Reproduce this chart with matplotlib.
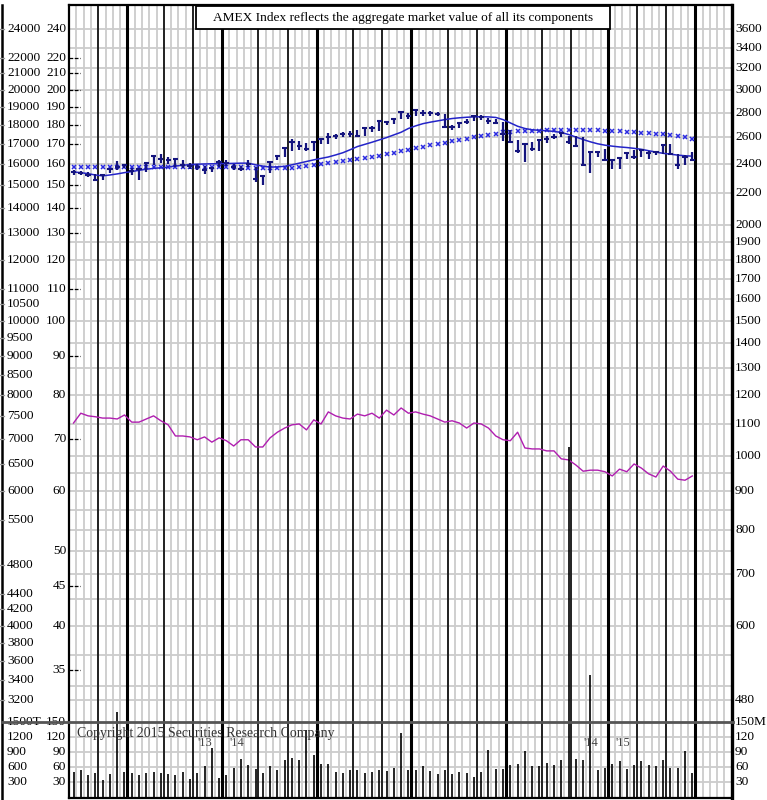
import numpy as np
import pandas as pd
import matplotlib
matplotlib.use("Agg")
from matplotlib import pyplot as plt
from matplotlib import transforms
from matplotlib.lines import Line2D
from matplotlib.patches import Rectangle
from matplotlib.ticker import NullLocator

plt.rcParams['font.family'] = ['Liberation Serif', 'DejaVu Serif']

W, H = 767, 800

# weekly bars, Aug 2013 - Mar 2015 (a few empty weeks to the right)
weeks = pd.date_range('2013-08-07', periods=92, freq='7D')
n_bars = 86

high = [157.0, 156.8, 156.3, 155.3, 155.0, 158.0, 161.5, 159.8, 158.3, 157.8,
        161.0, 164.3, 164.9, 163.5, 162.8, 162.0, 160.3, 160.0, 159.0, 158.4,
        162.0, 161.8, 160.0, 159.0, 162.0, 158.5, 154.5, 161.6, 164.5, 168.3,
        172.5, 171.5, 170.5, 171.0, 173.0, 175.7, 175.3, 176.3, 176.5, 177.3,
        178.1, 179.4, 182.2, 182.2, 183.3, 187.5, 186.7, 188.5, 188.2, 187.8,
        187.3, 186.0, 179.7, 181.3, 183.0, 185.3, 185.3, 183.5, 183.0, 181.3,
        177.0, 172.0, 170.5, 171.0, 172.5, 174.0, 175.0, 176.0, 174.0, 174.0,
        173.3, 166.6, 166.6, 167.5, 162.6, 163.4, 165.8, 167.0, 167.5, 166.6,
        166.6, 169.9, 169.9, 165.0, 164.2, 166.0]
low = [155.0, 154.8, 154.0, 152.0, 152.5, 155.5, 157.3, 158.0, 155.0, 152.5,
       156.4, 159.5, 160.5, 160.0, 158.5, 158.3, 157.5, 157.2, 155.4, 156.3,
       158.5, 159.0, 157.0, 156.5, 158.5, 151.8, 150.3, 155.5, 162.0, 163.5,
       166.2, 167.0, 166.5, 166.5, 170.0, 169.9, 172.5, 173.5, 173.5, 173.3,
       174.0, 176.2, 176.8, 179.7, 180.5, 183.0, 183.0, 184.7, 185.0, 184.7,
       184.7, 178.1, 177.3, 178.1, 180.5, 182.0, 182.5, 180.5, 180.5, 171.5,
       170.5, 165.5, 161.0, 166.5, 166.5, 170.5, 172.3, 173.3, 170.0, 168.3,
       159.1, 155.5, 163.4, 161.7, 157.8, 157.8, 162.3, 162.6, 163.4, 162.6,
       164.2, 165.0, 164.2, 157.8, 159.4, 161.3]
close = [156.0, 155.8, 155.0, 152.5, 154.8, 157.5, 158.5, 159.4, 156.8, 157.5,
         160.5, 164.0, 162.4, 161.8, 162.6, 159.5, 159.0, 158.5, 157.0, 158.2,
         161.0, 160.5, 158.5, 157.5, 160.0, 153.0, 154.2, 161.0, 164.0, 168.0,
         171.0, 169.0, 167.5, 170.8, 172.5, 173.3, 173.8, 174.9, 175.0, 173.8,
         178.0, 178.1, 182.0, 181.4, 183.0, 187.3, 184.7, 188.3, 186.7, 186.4,
         186.0, 179.0, 178.9, 181.0, 181.6, 185.0, 184.5, 182.2, 181.0, 175.0,
         171.0, 166.5, 169.8, 167.5, 172.2, 172.5, 173.5, 175.8, 171.0, 169.0,
         159.5, 166.0, 166.0, 162.0, 162.0, 163.0, 165.5, 163.5, 167.0, 165.5,
         165.8, 169.5, 165.0, 159.4, 163.4, 161.7]
ma_short = [156.2, 155.9, 155.4, 154.8, 154.4, 154.8, 155.3, 155.9, 156.4, 157.0,
            157.5, 157.9, 158.2, 158.5, 159.0, 159.4, 159.7, 159.9, 160.0, 160.1,
            160.1, 160.2, 160.3, 160.4, 160.4, 159.6, 159.0, 158.5, 158.6, 158.9,
            159.6, 160.4, 161.2, 162.0, 162.7, 163.4, 164.4, 165.5, 167.0, 168.6,
            169.7, 170.8, 172.0, 173.2, 174.6, 176.0, 178.0, 179.4, 180.6, 181.4,
            182.1, 182.8, 183.4, 183.8, 184.1, 184.3, 184.4, 184.3, 184.0, 182.8,
            181.0, 179.2, 178.0, 177.3, 177.0, 176.8, 176.4, 175.9, 174.8, 173.5,
            172.2, 171.0, 170.0, 169.3, 168.8, 168.4, 168.1, 167.7, 167.2, 166.5,
            165.8, 165.2, 164.8, 164.3, 164.0, 163.8]
ma_long = [158.4, 158.4, 158.4, 158.4, 158.4, 158.4, 158.4, 158.4, 158.4, 158.4,
           158.4, 158.4, 158.4, 158.4, 158.4, 158.4, 158.4, 158.4, 158.4, 158.4,
           158.4, 158.4, 158.4, 158.4, 158.0, 158.0, 158.0, 158.0, 158.0, 158.0,
           158.3, 158.7, 159.2, 159.7, 160.2, 160.6, 161.1, 161.5, 161.9, 162.3,
           162.8, 163.4, 164.0, 164.7, 165.4, 166.2, 167.0, 167.8, 168.6, 169.3,
           170.0, 170.6, 171.3, 172.0, 172.7, 173.3, 174.0, 174.7, 175.3, 175.9,
           176.3, 176.5, 176.5, 176.6, 176.8, 177.0, 177.1, 177.3, 177.3, 177.3,
           177.2, 177.1, 177.0, 176.7, 176.5, 176.4, 176.1, 176.0, 175.7, 175.6,
           175.2, 174.9, 174.4, 173.8, 173.3, 172.5]
rel_strength = [73.5, 75.7, 75.1, 74.9, 74.6, 74.6, 74.4, 75.3, 73.7, 73.7,
                74.4, 75.1, 74.0, 73.1, 70.7, 70.7, 70.5, 69.9, 70.5, 69.4,
                70.3, 69.7, 68.6, 69.9, 69.9, 68.4, 68.4, 70.3, 71.5, 72.4,
                73.1, 73.3, 72.0, 74.2, 73.3, 76.0, 75.1, 74.6, 74.4, 75.5,
                75.1, 75.7, 74.6, 76.4, 75.3, 76.9, 75.7, 76.0, 75.5, 75.1,
                74.4, 73.7, 74.0, 73.5, 72.4, 73.5, 73.3, 72.4, 70.7, 69.9,
                69.7, 71.5, 68.2, 68.0, 68.0, 67.6, 67.6, 66.0, 65.8, 64.8,
                63.6, 63.8, 63.8, 63.5, 62.7, 64.0, 63.5, 65.0, 64.2, 63.1,
                62.5, 64.6, 63.6, 62.1, 61.9, 62.7]
volume = [51, 55, 44, 49, 35, 46, 170, 51, 49, 44, 49, 51, 48, 46, 44, 50, 37, 48,
          63, 99, 39, 45, 58, 77, 65, 57, 49, 63, 54, 74, 79, 74, 134, 84, 66, 66,
          50, 49, 54, 54, 48, 51, 54, 53, 59, 129, 55, 54, 63, 53, 47, 55, 46, 51,
          49, 41, 51, 94, 57, 57, 64, 67, 93, 62, 62, 69, 64, 74, 700, 77, 74, 244,
          54, 59, 67, 73, 57, 64, 73, 65, 62, 74, 59, 59, 93, 48]

# axis labels
outer_labels = [24000, 22000, 21000, 20000, 19000, 18000, 17000, 16000, 15000,
                14000, 13000, 12000, 11000, 10500, 10000, 9500, 9000, 8500, 8000,
                7500, 7000, 6500, 6000, 5500, 4800, 4400, 4200, 4000, 3800, 3600,
                3400, 3200]
inner_labels = [240, 220, 210, 200, 190, 180, 170, 160, 150, 140, 130, 120, 110,
                100, 90, 80, 70, 60, 50, 45, 40, 35]
dash_ticks = [220, 210, 200, 190, 180, 170, 150, 140, 130, 110, 90, 70, 45, 35]
right_labels = [3600, 3400, 3200, 3000, 2800, 2600, 2400, 2200, 2000, 1900, 1800,
                1700, 1600, 1500, 1400, 1300, 1200, 1100, 1000, 900, 800, 700,
                600, 480]
right_grid = [3600, 3400, 3200, 3000, 2800, 2600, 2400, 2200, 2000, 1900, 1800,
              1700, 1600, 1500, 1400, 1300, 1200, 1100, 1000, 950, 900, 850, 800,
              750, 700, 650, 600, 550, 500, 480]
vol_ticks = [150, 120, 90, 60, 30]
vol_outer = ['1500T', '1200', '900', '600', '300']
vol_right = ['150M', '120', '90', '60', '30']
title = "AMEX Index reflects the aggregate market value of all its components"

navy = '#15157e'
blue = '#2424c8'
xblue = '#2a2ae0'
magenta = '#b01eb0'
light = '#cccccc'


def fx(px):
    return px / W


def fy(py):
    return 1 - py / H


fig = plt.figure(figsize=(W / 100, H / 100), dpi=100)
ax = fig.add_axes([fx(69), fy(722), fx(732) - fx(69), fy(5) - fy(722)])
vax = fig.add_axes([fx(69), fy(798), fx(732) - fx(69), fy(722) - fy(798)])
vax.patch.set_alpha(0)

x = np.arange(n_bars)
xmin, xmax = -0.62, 90.45
right_scale = 15.0

# month / quarter boundaries from the weekly dates
months = weeks.month.values
month_lines, quarter_lines = [], []
for i in range(len(weeks) - 1):
    if months[i + 1] != months[i]:
        if months[i + 1] in (1, 4, 7, 10):
            quarter_lines.append(i + 0.4)
        else:
            month_lines.append(i + 0.4)
week_lines = np.arange(-1, len(weeks)) + 0.4

for a in (ax, vax):
    a.set_xlim(xmin, xmax)
    a.vlines(week_lines, 0, 1, transform=a.get_xaxis_transform(), color=light, lw=1.3, zorder=1)
    a.vlines(month_lines, 0, 1, transform=a.get_xaxis_transform(), color='#222222', lw=1.4, zorder=2)
    a.vlines(quarter_lines, 0, 1, transform=a.get_xaxis_transform(), color='black', lw=2.2, zorder=2)
    a.set_xticks([])
    a.set_yticks([])

# price panel
ax.set_yscale('log')
ax.set_ylim(29.95, 257.9)
ax.yaxis.set_minor_locator(NullLocator())
ax.set_yticks([])
ax.hlines(np.array(right_grid) / right_scale, xmin, xmax, color=light, lw=1.3, zorder=1)
ax.hlines(dash_ticks, xmin, xmin + 1.5, color='black', lw=0.9, linestyles=(0, (3, 1.2)), zorder=3)

ax.plot(x, rel_strength, color=magenta, lw=1.0, zorder=4)
ax.plot(x, ma_long, ls='none', marker='x', ms=3.4, mew=1.1, color=xblue, zorder=4)
ax.plot(x, ma_short, color=blue, lw=1.1, zorder=4)
ax.vlines(x, low, high, color=navy, lw=1.6, zorder=5)
ax.hlines(close, x - 0.36, x + 0.36, color=navy, lw=1.5, zorder=5)

# volume panel
vax.set_ylim(-2, 150)
vax.hlines([30, 60, 90, 120], xmin, xmax, color=light, lw=1.3, zorder=1)
vax.vlines(x, 0, volume, color='black', lw=1.2, zorder=6, clip_on=False)

for a in (ax, vax):
    for s in a.spines.values():
        s.set_linewidth(1.6)
        s.set_color('black')
    a.spines['right'].set_linewidth(2.4)
ax.spines['bottom'].set_visible(False)
vax.spines['top'].set_visible(False)

# year markers in volume panel
for q in quarter_lines:
    i = int(q)
    if months[i + 1] == 1:
        yr_prev = weeks[i].year % 100
        yr_next = weeks[i + 1].year % 100
        vax.text(q - 1.3, 107, "'%02d" % yr_prev, ha='right', va='center', fontsize=9, color='#444444', zorder=7)
        vax.text(q + 1.0, 107, "'%02d" % yr_next, ha='left', va='center', fontsize=9, color='#444444', zorder=7)

# labels
tp = transforms.blended_transform_factory(fig.transFigure, ax.transData)
tv = transforms.blended_transform_factory(fig.transFigure, vax.transData)
fs = 9.6
for v in outer_labels:
    fig.text(fx(7), v / 100, str(v), transform=tp, ha='left', va='center', fontsize=fs)
for v in inner_labels:
    fig.text(fx(66), v, str(v), transform=tp, ha='right', va='center', fontsize=fs)
for v in right_labels:
    fig.text(fx(735), v / right_scale, str(v), transform=tp, ha='left', va='center', fontsize=fs)
for v, lo, lr in zip(vol_ticks, vol_outer, vol_right):
    fig.text(fx(7), v, lo, transform=tv, ha='left', va='center', fontsize=fs)
    fig.text(fx(66), v, str(v), transform=tv, ha='right', va='center', fontsize=fs)
    fig.text(fx(735), v, lr, transform=tv, ha='left', va='center', fontsize=fs)

# frame line on the far left (with small nubs) and volume divider
fig.add_artist(Line2D([fx(2), fx(2)], [fy(5), fy(800)], color='black', lw=1.8, transform=fig.transFigure))
for v in outer_labels:
    fig.add_artist(Line2D([fx(0), fx(4)], [v / 100, v / 100], color='#999999', lw=0.9, transform=tp))
fig.add_artist(Line2D([fx(2), fx(733)], [fy(722), fy(722)], color='#555555', lw=2.0,
                      transform=fig.transFigure, zorder=8))

# title box
fig.add_artist(Rectangle((fx(196), fy(29)), fx(610) - fx(196), fy(6) - fy(29),
                         transform=fig.transFigure, fc='white', ec='black', lw=1.3, zorder=9))
fig.text(fx(403), fy(17.5), title, ha='center', va='center', fontsize=9.6, zorder=10)

fig.text(fx(77), fy(733), "Copyright 2015 Securities Research Company", ha='left', va='center',
         fontsize=10, color='#333333', zorder=10)

fig.savefig('out.png', dpi=100)
